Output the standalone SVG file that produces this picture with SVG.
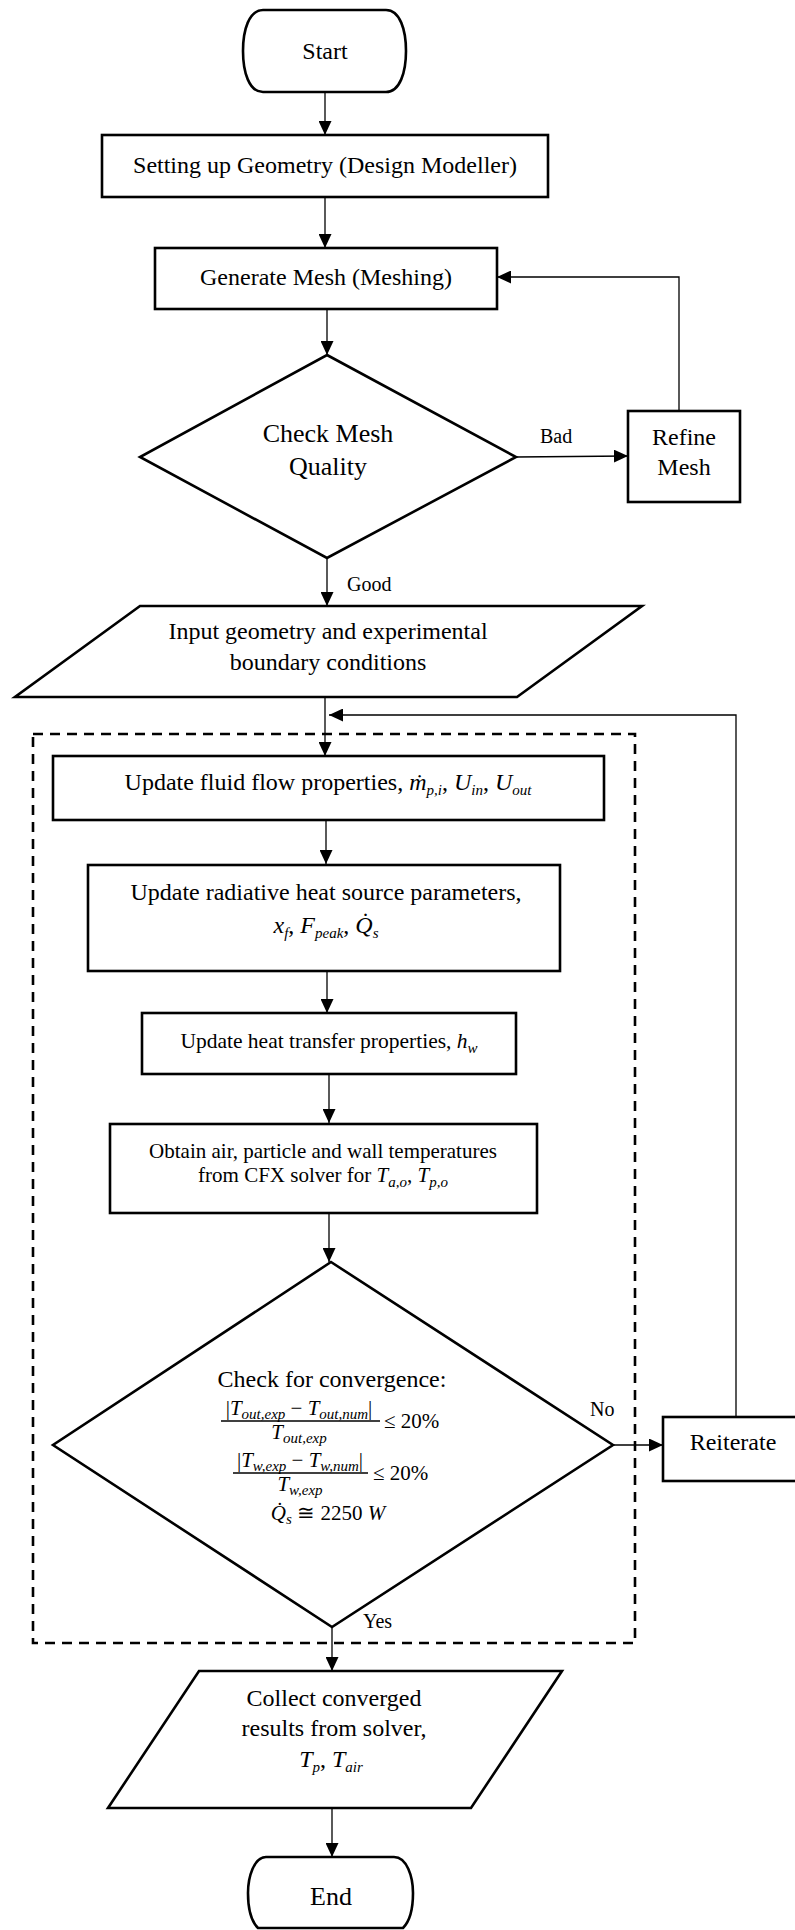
<svg xmlns="http://www.w3.org/2000/svg" width="795" height="1930" viewBox="0 0 795 1930">
<style>
.n{fill:#fff;stroke:#000;stroke-width:2.6}
.c{fill:none;stroke:#000;stroke-width:1.3}
.t{font-family:"Liberation Serif","Times New Roman",serif;font-size:24px;fill:#000;text-anchor:middle}
.lab{font-family:"Liberation Serif","Times New Roman",serif;font-size:20px;fill:#000}
.m{font-family:"Liberation Serif","Times New Roman",serif;font-size:21px;fill:#000;text-anchor:middle}
.i{font-style:italic}
.s{font-size:15px;font-style:italic}
</style>
<defs>
<marker id="ah" markerUnits="userSpaceOnUse" markerWidth="14" markerHeight="13" refX="14" refY="6.5" orient="auto">
<path d="M0,0 L14,6.5 L0,13 Z" fill="#000"/>
</marker>
</defs>
<rect x="0" y="0" width="795" height="1930" fill="#fff"/>

<g id="loop-boundary">
<rect x="33" y="734" width="602" height="909" fill="none" stroke="#000" stroke-width="2.6" stroke-dasharray="10,7"/>
</g>

<g id="connectors">
<path class="c" d="M325,92 V135" marker-end="url(#ah)"/>
<path class="c" d="M325,197 V248" marker-end="url(#ah)"/>
<path class="c" d="M327,309 V355" marker-end="url(#ah)"/>
<path class="c" d="M516,457 L628,456" marker-end="url(#ah)"/>
<path class="c" d="M679,411 V277 H497" marker-end="url(#ah)"/>
<path class="c" d="M327,558 V606" marker-end="url(#ah)"/>
<path class="c" d="M325,697 V756" marker-end="url(#ah)"/>
<path class="c" d="M736,1417 V715 H329" marker-end="url(#ah)"/>
<path class="c" d="M326,820 V864" marker-end="url(#ah)"/>
<path class="c" d="M327,971 V1013" marker-end="url(#ah)"/>
<path class="c" d="M329,1074 V1123" marker-end="url(#ah)"/>
<path class="c" d="M329,1213 V1262" marker-end="url(#ah)"/>
<path class="c" d="M613,1445 H663" marker-end="url(#ah)"/>
<path class="c" d="M332,1627 V1671" marker-end="url(#ah)"/>
<path class="c" d="M332,1808 V1857" marker-end="url(#ah)"/>
<text class="lab" x="540" y="443">Bad</text>
<text class="lab" x="347" y="591">Good</text>
<text class="lab" x="590" y="1416">No</text>
<text class="lab" x="363" y="1628">Yes</text>
</g>

<g id="start">
<path class="n" d="M263,10 H386 C400,10 406,30 406,51 C406,72 400,92 386,92 H263 C249,92 243,72 243,51 C243,30 249,10 263,10 Z"/>
<text class="t" x="325" y="59">Start</text>
</g>

<g id="setup-geometry">
<rect class="n" x="102" y="135" width="446" height="62"/>
<text class="t" x="325" y="173">Setting up Geometry (Design Modeller)</text>
</g>

<g id="generate-mesh">
<rect class="n" x="155" y="248" width="342" height="61"/>
<text class="t" x="326" y="285">Generate Mesh (Meshing)</text>
</g>

<g id="check-mesh">
<path class="n" d="M327,355 L516,457 L327,558 L140,457 Z"/>
<text class="t" x="328" y="442" style="font-size:26px">Check Mesh</text>
<text class="t" x="328" y="475" style="font-size:26px">Quality</text>
</g>

<g id="refine-mesh">
<rect class="n" x="628" y="411" width="112" height="91"/>
<text class="t" x="684" y="445">Refine</text>
<text class="t" x="684" y="475">Mesh</text>
</g>

<g id="input">
<path class="n" d="M140,606 L642,606 L517,697 L15,697 Z"/>
<text class="t" x="328" y="639">Input geometry and experimental</text>
<text class="t" x="328" y="670">boundary conditions</text>
</g>

<g id="update-fluid">
<rect class="n" x="53" y="756" width="551" height="64"/>
<text class="t" x="328" y="790">Update fluid flow properties, <tspan class="i">ṁ</tspan><tspan class="s" dy="5">p,i</tspan><tspan dy="-5">, </tspan><tspan class="i">U</tspan><tspan class="s" dy="5">in</tspan><tspan dy="-5">, </tspan><tspan class="i">U</tspan><tspan class="s" dy="5">out</tspan></text>
</g>

<g id="update-radiative">
<rect class="n" x="88" y="865" width="472" height="106"/>
<text class="t" x="326" y="900">Update radiative heat source parameters,</text>
<text class="t" x="326" y="933"><tspan class="i">x</tspan><tspan class="s" dy="5">f</tspan><tspan dy="-5">, </tspan><tspan class="i">F</tspan><tspan class="s" dy="5">peak</tspan><tspan dy="-5">, </tspan><tspan class="i">Q̇</tspan><tspan class="s" dy="5">s</tspan></text>
</g>

<g id="update-heat">
<rect class="n" x="142" y="1013" width="374" height="61"/>
<text class="t" x="329" y="1048" style="font-size:21.5px">Update heat transfer properties, <tspan class="i">h</tspan><tspan class="s" dy="5">w</tspan></text>
</g>

<g id="obtain">
<rect class="n" x="110" y="1124" width="427" height="89"/>
<text class="t" x="323" y="1158" style="font-size:21px">Obtain air, particle and wall temperatures</text>
<text class="t" x="323" y="1182" style="font-size:21px">from CFX solver for <tspan class="i">T</tspan><tspan class="s" dy="5">a,o</tspan><tspan dy="-5">, </tspan><tspan class="i">T</tspan><tspan class="s" dy="5">p,o</tspan></text>
</g>

<g id="check-convergence">
<path class="n" d="M331,1262 L613,1445 L332,1627 L53,1445 Z"/>
<text class="t" x="332" y="1387">Check for convergence:</text>
<text class="m" x="299" y="1415">|<tspan class="i">T</tspan><tspan class="s" dy="4">out,exp</tspan><tspan dy="-4"> − </tspan><tspan class="i">T</tspan><tspan class="s" dy="4">out,num</tspan><tspan dy="-4">|</tspan></text>
<line x1="221" y1="1421" x2="380" y2="1421" stroke="#000" stroke-width="1.6"/>
<text class="m" x="384" y="1428" style="text-anchor:start">≤ 20%</text>
<text class="m" x="299" y="1439"><tspan class="i">T</tspan><tspan class="s" dy="4">out,exp</tspan></text>
<text class="m" x="300" y="1467">|<tspan class="i">T</tspan><tspan class="s" dy="4">w,exp</tspan><tspan dy="-4"> − </tspan><tspan class="i">T</tspan><tspan class="s" dy="4">w,num</tspan><tspan dy="-4">|</tspan></text>
<line x1="233" y1="1473" x2="368" y2="1473" stroke="#000" stroke-width="1.6"/>
<text class="m" x="373" y="1480" style="text-anchor:start">≤ 20%</text>
<text class="m" x="300" y="1491"><tspan class="i">T</tspan><tspan class="s" dy="4">w,exp</tspan></text>
<text class="m" x="328" y="1520"><tspan class="i">Q̇</tspan><tspan class="s" dy="4">s</tspan><tspan dy="-4"> ≅ 2250 </tspan><tspan class="i">W</tspan></text>
</g>

<g id="reiterate">
<rect class="n" x="663" y="1417" width="140" height="64"/>
<text class="t" x="733" y="1450">Reiterate</text>
</g>

<g id="collect">
<path class="n" d="M199,1671 L562,1671 L471,1808 L108,1808 Z"/>
<text class="t" x="334" y="1706">Collect converged</text>
<text class="t" x="334" y="1736">results from solver,</text>
<text class="t" x="331" y="1767"><tspan class="i">T</tspan><tspan class="s" dy="5">p</tspan><tspan dy="-5">, </tspan><tspan class="i">T</tspan><tspan class="s" dy="5">air</tspan></text>
</g>

<g id="end">
<path class="n" d="M266,1857 H394 C407,1857 413,1877 413,1893 C413,1909 409,1922 403,1928 H258 C252,1922 248,1909 248,1893 C248,1877 254,1857 266,1857 Z"/>
<text class="t" x="331" y="1905" style="font-size:26px">End</text>
</g>
</svg>
